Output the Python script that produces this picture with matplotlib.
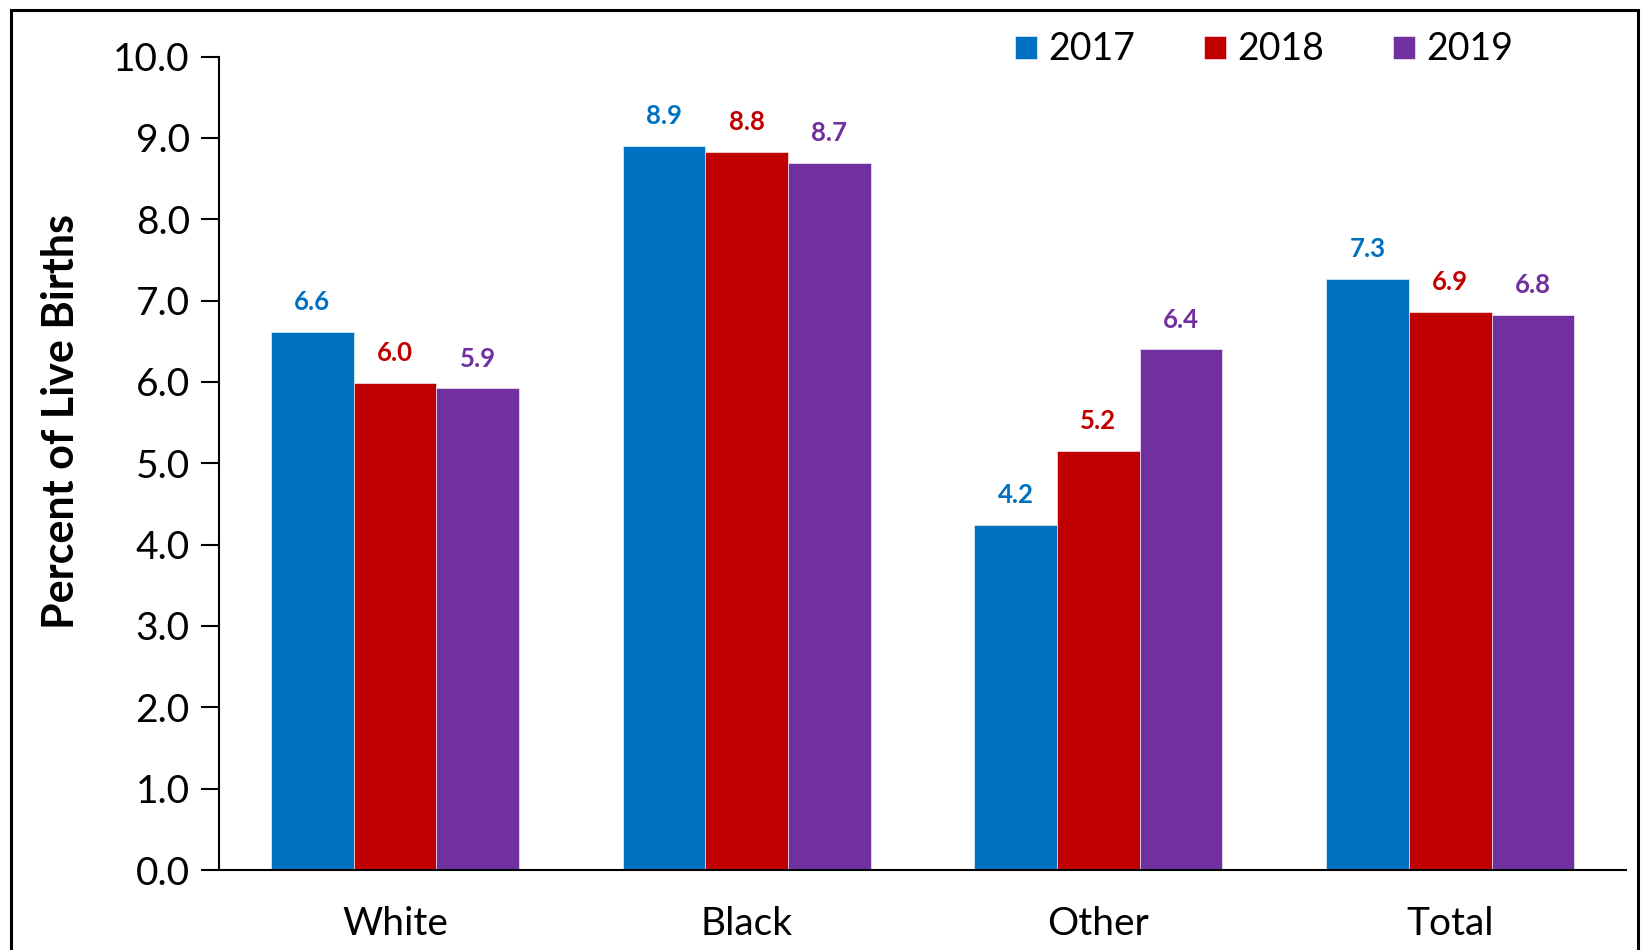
"""Low birth weight by race, grouped bar chart."""

import numpy as np
import matplotlib.pyplot as plt
from matplotlib.patches import Rectangle

plt.rcParams["font.family"] = ["Lato", "DejaVu Sans"]

categories = ["White", "Black", "Other", "Total"]
years = ["2017", "2018", "2019"]
values_2017 = [6.62, 8.90, 4.24, 7.27]
values_2018 = [5.99, 8.83, 5.15, 6.86]
values_2019 = [5.92, 8.69, 6.40, 6.82]
colors = ["#0070C0", "#C00000", "#7030A0"]

fig = plt.figure(figsize=(16.43, 9.5), dpi=100)
ax = fig.add_axes([0.1333, 0.0842, 0.8564, 0.8562])

x = np.arange(len(categories))
width = 0.235
series = [values_2017, values_2018, values_2019]
for i, (vals, col, yr) in enumerate(zip(series, colors, years)):
    pos = x + (i - 1) * width
    ax.bar(pos, vals, width, color=col, label=yr, edgecolor="white", linewidth=0.4)
    for p, v in zip(pos, vals):
        ax.text(p, v + 0.22, f"{v:.1f}", ha="center", va="bottom",
                fontsize=18.5, fontweight="bold", color=col)

ax.set_xlim(-0.5, len(categories) - 0.5)
ax.set_ylim(0, 10)
ax.set_yticks(np.arange(0, 10.1, 1.0))
ax.set_yticklabels([f"{t:.1f}" for t in np.arange(0, 10.1, 1.0)])
ax.set_xticks(x)
ax.set_xticklabels(categories)
ax.tick_params(axis="y", direction="out", length=13, width=1.5, labelsize=28, pad=8)
ax.tick_params(axis="x", length=0, labelsize=28, pad=26)
for side in ["top", "right"]:
    ax.spines[side].set_visible(False)
ax.spines["left"].set_linewidth(1.5)
ax.spines["bottom"].set_linewidth(1.5)
ax.set_ylabel("Percent of Live Births", fontsize=31, fontweight="bold")
ax.yaxis.set_label_coords(-0.098, 0.552)

ax.legend(loc="center left", bbox_to_anchor=(0.566, 1.009), ncol=3, frameon=False,
          fontsize=27, handlelength=0.57, handleheight=0.57, columnspacing=1.85,
          handletextpad=0.3, borderpad=0, borderaxespad=0)

fig.patches.append(Rectangle((11 / 1643, -0.05), (1638 - 11) / 1643, 1.05 - 10 / 950,
                             transform=fig.transFigure, fill=False,
                             edgecolor="black", linewidth=2.2))

fig.savefig("out.png", dpi=100)
